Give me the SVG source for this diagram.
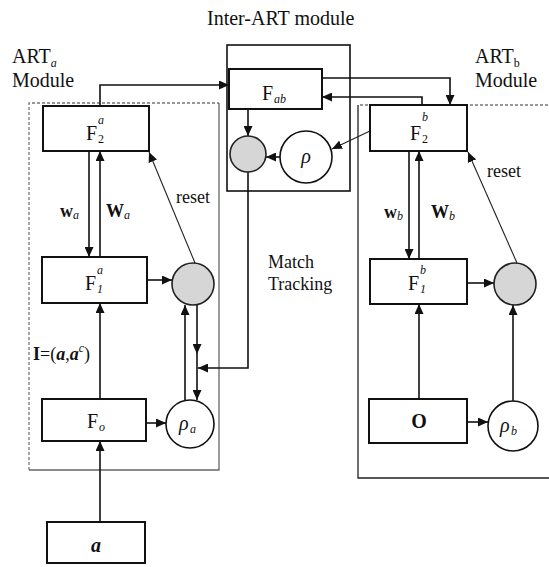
<svg xmlns="http://www.w3.org/2000/svg" width="549" height="567" viewBox="0 0 549 567">
<style>
text{font-family:"Liberation Serif","Times New Roman",serif;fill:#111}
.box{fill:#fff;stroke:#111;stroke-width:2}
.grey{fill:#d6d6d6;stroke:#222;stroke-width:1.6}
.circ{fill:#fff;stroke:#111;stroke-width:1.6}
.ln{fill:none;stroke:#111;stroke-width:1.6}
.thin{fill:none;stroke:#222;stroke-width:1.1}
.mod{fill:none;stroke:#666;stroke-width:1.3}
.dash{fill:none;stroke:#777;stroke-width:1.3;stroke-dasharray:3 2}
.lbl{font-size:20px}
.sm{font-size:18px}
.sub{font-size:12px}
</style>
<defs>
<marker id="ah" markerUnits="userSpaceOnUse" markerWidth="10" markerHeight="9" refX="10" refY="4.5" orient="auto">
<path d="M0,0 L10,4.5 L0,9 z" fill="#111"/>
</marker>
</defs>

<g id="titles">
<text class="lbl" x="207" y="25">Inter-ART module</text>
<text class="lbl" x="12" y="63">ART<tspan class="sub" font-style="italic" dy="4">a</tspan></text>
<text class="lbl" x="12" y="87">Module</text>
<text class="lbl" x="475" y="63">ART<tspan class="sub" dy="4">b</tspan></text>
<text class="lbl" x="475" y="87">Module</text>
<text class="sm" x="268" y="268">Match</text>
<text class="sm" x="268" y="290">Tracking</text>
</g>

<g id="modules">
<path class="dash" d="M29,470 V103 H219"/>
<path class="mod" d="M219,103 V470 H29"/>
<rect class="mod" x="227" y="45" width="123" height="146" style="stroke:#111;stroke-width:1.6"/>
<path class="dash" d="M360,105 H549"/>
<path class="mod" d="M358,105 V478 H549" style="stroke:#222"/>
</g>

<g id="connectors">
<path class="ln" d="M100,105 V85 H229" marker-end="url(#ah)"/>
<path class="ln" d="M322,78 H450 V105" marker-end="url(#ah)"/>
<path class="ln" d="M422,105 V97 H322" marker-end="url(#ah)"/>
<path class="thin" d="M370,131 L332,149" marker-end="url(#ah)"/>
<path class="ln" d="M248,109 V136" marker-end="url(#ah)"/>
<path class="ln" d="M281,157 H266" marker-end="url(#ah)"/>
<path class="ln" d="M248,172 V368 H198" marker-end="url(#ah)"/>
<path class="ln" d="M89,151 V257" marker-end="url(#ah)"/>
<path class="ln" d="M100,257 V151" marker-end="url(#ah)"/>
<path class="ln" d="M147,280 H172" marker-end="url(#ah)"/>
<path class="thin" d="M195,263 L149,152" marker-end="url(#ah)"/>
<path class="ln" d="M197,305 V354" marker-end="url(#ah)"/>
<path class="ln" d="M197,354 V400" marker-end="url(#ah)"/>
<path class="ln" d="M185,401 V305" marker-end="url(#ah)"/>
<path class="ln" d="M146,423 H166" marker-end="url(#ah)"/>
<path class="ln" d="M100,399 V303" marker-end="url(#ah)"/>
<path class="ln" d="M100,522 V441" marker-end="url(#ah)"/>
<path class="ln" d="M409,151 V259" marker-end="url(#ah)"/>
<path class="ln" d="M419,259 V151" marker-end="url(#ah)"/>
<path class="ln" d="M467,283 H494" marker-end="url(#ah)"/>
<path class="thin" d="M517,263 L468,152" marker-end="url(#ah)"/>
<path class="ln" d="M419,399 V304" marker-end="url(#ah)"/>
<path class="ln" d="M467,422 H488" marker-end="url(#ah)"/>
<path class="ln" d="M513,401 V305" marker-end="url(#ah)"/>
</g>

<g id="connector-labels">
<text class="sm" x="60" y="217" font-weight="bold">w<tspan class="sub" font-weight="normal" font-style="italic" dy="2">a</tspan></text>
<text class="sm" x="106" y="217" font-weight="bold">W<tspan class="sub" font-weight="normal" font-style="italic" dy="2">a</tspan></text>
<text class="sm" x="176" y="203">reset</text>
<text class="sm" x="384" y="218" font-weight="bold">w<tspan class="sub" font-weight="normal" font-style="italic" dy="2">b</tspan></text>
<text class="sm" x="431" y="218" font-weight="bold">W<tspan class="sub" font-weight="normal" font-style="italic" dy="2">b</tspan></text>
<text class="sm" x="487" y="177">reset</text>
<text class="sm" x="33" y="360"><tspan font-weight="bold">I</tspan>=(<tspan font-weight="bold" font-style="italic">a</tspan>,<tspan font-weight="bold" font-style="italic">a</tspan><tspan class="sub" font-style="italic" dy="-8">c</tspan><tspan dy="8">)</tspan></text>
</g>

<g id="F2a">
<rect class="box" x="43" y="106" width="106" height="45"/>
<text class="lbl" x="86" y="140">F</text>
<text class="sub" x="98" y="124" font-style="italic">a</text>
<text class="sub" x="98" y="143">2</text>
</g>

<g id="F1a">
<rect class="box" x="42" y="257" width="105" height="46"/>
<text class="lbl" x="85" y="290">F</text>
<text class="sub" x="97" y="274" font-style="italic">a</text>
<text class="sub" x="97" y="293" font-style="italic">1</text>
</g>

<g id="F0">
<rect class="box" x="42" y="399" width="104" height="42"/>
<text class="lbl" x="87" y="428">F</text>
<text class="sub" x="99" y="431" font-style="italic">o</text>
</g>

<g id="input-a">
<rect class="box" x="47" y="522" width="98" height="41"/>
<text class="lbl" x="96" y="552" text-anchor="middle" font-weight="bold" font-style="italic">a</text>
</g>

<g id="match-a">
<circle class="grey" cx="193" cy="284" r="21"/>
</g>

<g id="rho-a">
<circle class="circ" cx="190" cy="424" r="24"/>
<text class="lbl" x="179" y="430" font-style="italic">ρ</text>
<text class="sub" x="190" y="433" font-style="italic">a</text>
</g>

<g id="Fab">
<rect class="box" x="229" y="69" width="93" height="40"/>
<text class="lbl" x="262" y="100">F</text>
<text class="sub" x="274" y="103" font-style="italic">ab</text>
</g>

<g id="match-ab">
<circle class="grey" cx="248" cy="154" r="18"/>
</g>

<g id="rho">
<circle class="circ" cx="306" cy="157" r="26"/>
<text class="lbl" x="306" y="163" text-anchor="middle" font-style="italic">ρ</text>
</g>

<g id="F2b">
<rect class="box" x="370" y="105" width="97" height="46"/>
<text class="lbl" x="410" y="140">F</text>
<text class="sub" x="422" y="121" font-style="italic">b</text>
<text class="sub" x="422" y="143">2</text>
</g>

<g id="F1b">
<rect class="box" x="370" y="259" width="97" height="45"/>
<text class="lbl" x="408" y="290">F</text>
<text class="sub" x="420" y="274" font-style="italic">b</text>
<text class="sub" x="420" y="293" font-style="italic">1</text>
</g>

<g id="O">
<rect class="box" x="369" y="399" width="98" height="44"/>
<text class="lbl" x="419" y="428" text-anchor="middle" font-weight="bold">O</text>
</g>

<g id="match-b">
<circle class="grey" cx="515" cy="284" r="21"/>
</g>

<g id="rho-b">
<circle class="circ" cx="513" cy="426" r="25"/>
<text class="lbl" x="500" y="432" font-style="italic">ρ</text>
<text class="sub" x="511" y="435" font-style="italic">b</text>
</g>
</svg>
